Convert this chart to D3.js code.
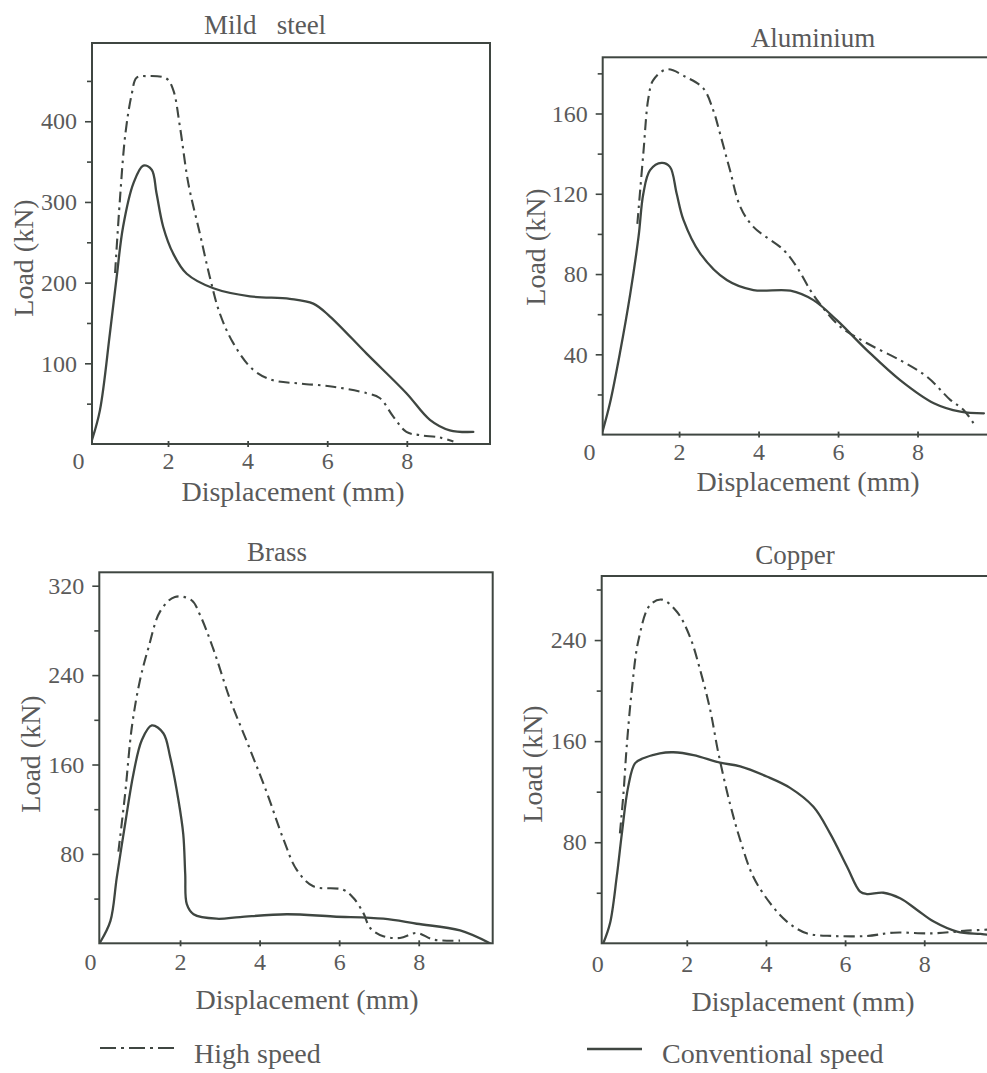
<!DOCTYPE html>
<html>
<head>
<meta charset="utf-8">
<script src="https://cdn.jsdelivr.net/npm/d3@7"></script>
<style>
  html, body { margin: 0; padding: 0; background: #ffffff; }
  svg { display: block; }
  text { font-family: "Liberation Serif", "Times New Roman", serif; fill: #5a5a5a; }
</style>
</head>
<body>
<svg id="chart" width="987" height="1073"></svg>
<script>
// ---------------- DATA ----------------
const panelTitles = ["Mild\u00a0\u00a0\u00a0steel", "Aluminium", "Brass", "Copper"];
const xAxisTitle = "Displacement (mm)";
const yAxisTitle = "Load (kN)";
const legendLabels = ["High speed", "Conventional speed"];

const xTickValues = [2, 4, 6, 8];

const mildMajorTicks = [100, 200, 300, 400];
const mildMinorTicks = [50, 150, 250, 350, 450];
const aluMajorTicks = [40, 80, 120, 160];
const aluMinorTicks = [20, 60, 100, 140, 180];
const brassMajorTicks = [80, 160, 240, 320];
const brassMinorTicks = [40, 120, 200, 280];
const copperMajorTicks = [80, 160, 240];
const copperMinorTicks = [40, 120, 200, 280];

// [displacement (mm), load (kN)]
const mildConventional = [
  [0.09, 5], [0.29, 42], [0.54, 137], [0.71, 207], [0.87, 269], [1.13, 323],
  [1.38, 345], [1.59, 340], [1.71, 311], [1.88, 269], [2.13, 236], [2.47, 211],
  [3.14, 193], [4.06, 183], [5.06, 180], [5.65, 174], [6.07, 158], [6.99, 112],
  [7.99, 63], [8.58, 30], [9.08, 17], [9.67, 15]
];
const mildHighSpeed = [
  [0.67, 212], [0.79, 302], [0.93, 385], [1.09, 434], [1.21, 454], [1.46, 456],
  [1.96, 453], [2.13, 439], [2.30, 393], [2.51, 323], [2.80, 261], [3.05, 207],
  [3.30, 162], [3.64, 125], [4.14, 92], [4.64, 79], [5.31, 75], [6.15, 71],
  [6.99, 63], [7.32, 57], [7.66, 34], [7.99, 15], [8.33, 11], [8.83, 8], [9.17, 3]
];

const aluConventional = [
  [0.08, 2], [0.26, 15.6], [0.51, 40.5], [0.77, 70], [0.98, 98.6], [1.10, 120],
  [1.27, 131.8], [1.56, 135.4], [1.77, 133.4], [1.94, 120], [2.11, 107], [2.53, 90.3],
  [3.20, 77], [3.87, 72], [4.80, 71.7], [5.38, 67], [5.97, 57], [6.73, 42],
  [7.57, 27], [8.41, 15.6], [9.08, 11.4], [9.67, 10.6]
];
const aluHighSpeed = [
  [0.95, 105], [1.10, 140], [1.23, 168], [1.35, 176.6], [1.69, 182], [2.19, 178],
  [2.61, 172.5], [2.86, 161.6], [3.03, 150], [3.28, 131.8], [3.54, 113.5], [3.87, 103.5],
  [4.63, 92], [4.96, 83.6], [5.30, 72], [5.55, 65], [6.06, 53.7], [6.73, 45.5],
  [7.57, 37], [8.24, 28.8], [8.83, 17.2], [9.16, 12.3], [9.41, 5.6]
];

const brassConventional = [
  [0.0, 1.4], [0.25, 20], [0.41, 59], [0.62, 107], [0.83, 152], [1.04, 182],
  [1.29, 195], [1.58, 188], [1.75, 167], [1.96, 128], [2.08, 98], [2.13, 62],
  [2.17, 35], [2.34, 26], [2.92, 22], [3.51, 23.5], [4.68, 26], [5.85, 24],
  [7.11, 22], [7.95, 17.5], [9.04, 11.5], [9.79, 0]
];
const brassHighSpeed = [
  [0.45, 82], [0.62, 134], [0.79, 194], [0.99, 235], [1.21, 265], [1.50, 297],
  [1.87, 310], [2.29, 307], [2.50, 294], [2.84, 263], [3.26, 218], [3.72, 177],
  [4.18, 135], [4.60, 93], [4.93, 66], [5.35, 51], [6.10, 48], [6.36, 40.5],
  [6.61, 27], [6.78, 13.7], [7.11, 6.3], [7.53, 4.8], [7.95, 9.3], [8.37, 3.3], [9.04, 2.4]
];

const copperConventional = [
  [-0.11, 0], [0.06, 15.8], [0.23, 52.7], [0.36, 87], [0.52, 124], [0.69, 142.4],
  [0.90, 146.4], [1.32, 150.4], [1.66, 151.2], [2.17, 149], [2.84, 143], [3.35, 140],
  [4.02, 132], [4.61, 123], [5.20, 108], [5.62, 87], [6.05, 60.6], [6.38, 40.9],
  [6.55, 39], [6.97, 40], [7.39, 35.6], [7.82, 26.4], [8.24, 17.2], [8.83, 9.3],
  [9.42, 7.4], [9.70, 6.6]
];
const copperHighSpeed = [
  [0.31, 87], [0.40, 118.6], [0.48, 155], [0.61, 200], [0.78, 240], [1.07, 267.7],
  [1.37, 272], [1.75, 262.4], [2.08, 242.6], [2.34, 216], [2.59, 185], [2.80, 150.3],
  [3.09, 110.7], [3.35, 81.8], [3.68, 52.7], [4.11, 31.6], [4.53, 17.2], [5.03, 7.9],
  [5.71, 5.8], [6.55, 5.8], [7.22, 8.4], [8.24, 7.9], [9.08, 10], [9.70, 11]
];

// ---------------- LAYOUT / STYLE ----------------
const lineColor = "#3f4641";
const dashDot = "11,5,2.5,5";
const tickFont = 24;

const panels = [
  { title: panelTitles[0], major: mildMajorTicks, minor: mildMinorTicks,
    conv: mildConventional, high: mildHighSpeed,
    left: 92, right: 490, top: 43, bottom: 444, xDom: [0.09, 10.09], yMax: 497,
    titlePos: [265, 25], xTitlePos: [293, 491], yTitlePos: [23, 258], xPad: 5 },
  { title: panelTitles[1], major: aluMajorTicks, minor: aluMinorTicks,
    conv: aluConventional, high: aluHighSpeed,
    left: 602.7, right: 1001, top: 57.3, bottom: 434.6, xDom: [0.078, 10.1], yMax: 188,
    titlePos: [813, 38], xTitlePos: [808, 481], yTitlePos: [535, 247], xPad: 5 },
  { title: panelTitles[2], major: brassMajorTicks, minor: brassMinorTicks,
    conv: brassConventional, high: brassHighSpeed,
    left: 99.3, right: 492.7, top: 572.3, bottom: 943.3, xDom: [-0.03, 9.86], yMax: 332,
    titlePos: [277, 552], xTitlePos: [307, 999], yTitlePos: [30, 754], xPad: 7 },
  { title: panelTitles[3], major: copperMajorTicks, minor: copperMinorTicks,
    conv: copperConventional, high: copperHighSpeed,
    left: 601.7, right: 1001, top: 576, bottom: 943.3, xDom: [-0.15, 9.94], yMax: 290.7,
    titlePos: [795, 555], xTitlePos: [803, 1001], yTitlePos: [532, 764], xPad: 9 }
];

const svg = d3.select("#chart");
svg.append("rect").attr("width", 987).attr("height", 1073).attr("fill", "#ffffff");

panels.forEach(p => {
  const g = svg.append("g");
  const x = d3.scaleLinear().domain(p.xDom).range([p.left, p.right]);
  const y = d3.scaleLinear().domain([0, p.yMax]).range([p.bottom, p.top]);

  // frame
  g.append("rect")
    .attr("x", p.left).attr("y", p.top)
    .attr("width", p.right - p.left).attr("height", p.bottom - p.top)
    .attr("fill", "none").attr("stroke", lineColor).attr("stroke-width", 2);

  // y axis major
  const yAx = g.append("g").attr("transform", `translate(${p.left},0)`)
    .call(d3.axisLeft(y).tickValues(p.major).tickSize(7).tickPadding(8).tickFormat(d3.format("d")));
  yAx.select(".domain").remove();
  yAx.selectAll("line").attr("stroke", lineColor).attr("stroke-width", 1.6);
  yAx.selectAll("text").attr("font-size", tickFont).attr("fill", "#5a5a5a")
    .style("font-family", "'Liberation Serif', serif");

  // y axis minor
  const yMin = g.append("g").attr("transform", `translate(${p.left},0)`)
    .call(d3.axisLeft(y).tickValues(p.minor).tickSize(5).tickFormat(""));
  yMin.select(".domain").remove();
  yMin.selectAll("line").attr("stroke", lineColor).attr("stroke-width", 1.6);

  // x axis
  const xAx = g.append("g").attr("transform", `translate(0,${p.bottom})`)
    .call(d3.axisBottom(x).tickValues(xTickValues).tickSize(3).tickPadding(p.xPad).tickFormat(d3.format("d")));
  xAx.select(".domain").remove();
  xAx.selectAll("line").attr("y1", -3).attr("stroke", lineColor).attr("stroke-width", 1.8);
  xAx.selectAll("text").attr("font-size", tickFont).attr("fill", "#5a5a5a")
    .style("font-family", "'Liberation Serif', serif");

  // origin "0" label
  g.append("text")
    .attr("x", x(0) - 10)
    .attr("y", p.bottom + 3 + p.xPad)
    .attr("dy", "0.71em")
    .attr("text-anchor", "middle")
    .attr("font-size", tickFont)
    .text("0");

  // titles
  g.append("text").attr("x", p.titlePos[0]).attr("y", p.titlePos[1]).attr("dy", "0.35em")
    .attr("text-anchor", "middle").attr("font-size", 27).style("white-space", "pre").text(p.title);
  g.append("text").attr("x", p.xTitlePos[0]).attr("y", p.xTitlePos[1]).attr("dy", "0.35em")
    .attr("text-anchor", "middle").attr("font-size", 28).text(xAxisTitle);
  g.append("text")
    .attr("transform", `translate(${p.yTitlePos[0]},${p.yTitlePos[1]}) rotate(-90)`)
    .attr("dy", "0.35em").attr("text-anchor", "middle").attr("font-size", 28).text(yAxisTitle);

  // curves
  const line = d3.line().x(d => x(d[0])).y(d => y(d[1])).curve(d3.curveCatmullRom.alpha(0.5));
  const clipId = "clip" + Math.round(p.left) + "_" + Math.round(p.top);
  svg.append("clipPath").attr("id", clipId).append("rect")
    .attr("x", p.left).attr("y", p.top - 2).attr("width", p.right - p.left).attr("height", p.bottom - p.top + 2);
  const cg = g.append("g").attr("clip-path", `url(#${clipId})`);
  cg.append("path").datum(p.conv).attr("d", line)
    .attr("fill", "none").attr("stroke", lineColor).attr("stroke-width", 2.3)
    .attr("stroke-linejoin", "round").attr("stroke-linecap", "round");
  cg.append("path").datum(p.high).attr("d", line)
    .attr("fill", "none").attr("stroke", lineColor).attr("stroke-width", 2.1)
    .attr("stroke-dasharray", dashDot);
});

// legend
const lg = svg.append("g");
lg.append("line").attr("x1", 100).attr("x2", 178).attr("y1", 1048).attr("y2", 1048)
  .attr("stroke", lineColor).attr("stroke-width", 2.1).attr("stroke-dasharray", "16,5,3,5");
lg.append("text").attr("x", 194).attr("y", 1053).attr("dy", "0.35em").attr("font-size", 28).text(legendLabels[0]);
lg.append("line").attr("x1", 587).attr("x2", 642).attr("y1", 1049).attr("y2", 1049)
  .attr("stroke", lineColor).attr("stroke-width", 2.3);
lg.append("text").attr("x", 662).attr("y", 1053).attr("dy", "0.35em").attr("font-size", 28).text(legendLabels[1]);
</script>
</body>
</html>
